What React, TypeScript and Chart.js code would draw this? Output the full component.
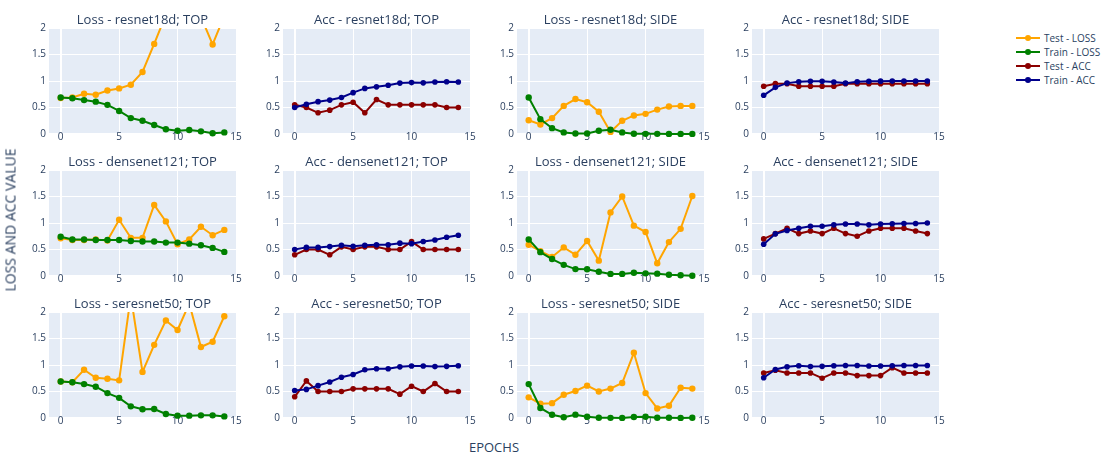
import React, { useEffect, useRef } from "react";
import { Chart, registerables } from "chart.js";

Chart.register(...registerables);

// ---------------- data ----------------
const EPOCHS = [0, 1, 2, 3, 4, 5, 6, 7, 8, 9, 10, 11, 12, 13, 14];
const X_TICKS = [0, 5, 10, 15];
const Y_TICKS = [0, 0.5, 1, 1.5, 2];

const R18_TOP_TEST_LOSS = [0.68, 0.69, 0.76, 0.74, 0.82, 0.86, 0.93, 1.17, 1.7, 2.25, 2.6, 2.8, 2.21, 1.69, 2.23];
const R18_TOP_TRAIN_LOSS = [0.69, 0.675, 0.64, 0.61, 0.55, 0.435, 0.3, 0.25, 0.17, 0.09, 0.06, 0.075, 0.05, 0.015, 0.03];
const R18_TOP_TEST_ACC = [0.55, 0.5, 0.4, 0.45, 0.55, 0.6, 0.4, 0.65, 0.55, 0.55, 0.55, 0.55, 0.55, 0.5, 0.5];
const R18_TOP_TRAIN_ACC = [0.5, 0.56, 0.61, 0.64, 0.69, 0.78, 0.86, 0.89, 0.92, 0.96, 0.97, 0.965, 0.98, 0.985, 0.98];
const R18_SIDE_TEST_LOSS = [0.26, 0.18, 0.3, 0.53, 0.66, 0.6, 0.42, 0.04, 0.25, 0.35, 0.38, 0.46, 0.52, 0.53, 0.53];
const R18_SIDE_TRAIN_LOSS = [0.69, 0.28, 0.11, 0.03, 0.01, 0.01, 0.06, 0.08, 0.03, 0.005, 0.003, 0.003, 0.002, 0.002, 0.002];
const R18_SIDE_TEST_ACC = [0.9, 0.95, 0.95, 0.9, 0.9, 0.9, 0.9, 0.95, 0.95, 0.95, 0.95, 0.95, 0.95, 0.95, 0.95];
const R18_SIDE_TRAIN_ACC = [0.73, 0.88, 0.96, 0.985, 0.995, 0.995, 0.98, 0.96, 0.985, 0.995, 0.997, 0.998, 0.998, 0.999, 0.999];

const D121_TOP_TEST_LOSS = [0.71, 0.68, 0.68, 0.69, 0.67, 1.06, 0.72, 0.72, 1.34, 1.03, 0.6, 0.69, 0.93, 0.77, 0.87];
const D121_TOP_TRAIN_LOSS = [0.74, 0.69, 0.69, 0.68, 0.68, 0.68, 0.66, 0.65, 0.65, 0.63, 0.63, 0.61, 0.58, 0.53, 0.455];
const D121_TOP_TEST_ACC = [0.4, 0.5, 0.5, 0.4, 0.55, 0.5, 0.55, 0.55, 0.5, 0.5, 0.65, 0.5, 0.5, 0.5, 0.5];
const D121_TOP_TRAIN_ACC = [0.5, 0.54, 0.54, 0.555, 0.58, 0.56, 0.58, 0.59, 0.59, 0.62, 0.61, 0.65, 0.68, 0.73, 0.77];
const D121_SIDE_TEST_LOSS = [0.59, 0.47, 0.36, 0.54, 0.4, 0.66, 0.29, 1.2, 1.5, 0.95, 0.83, 0.24, 0.64, 0.89, 1.51];
const D121_SIDE_TRAIN_LOSS = [0.69, 0.45, 0.32, 0.21, 0.13, 0.126, 0.08, 0.04, 0.04, 0.06, 0.05, 0.044, 0.025, 0.013, 0.006];
const D121_SIDE_TEST_ACC = [0.7, 0.8, 0.9, 0.8, 0.85, 0.8, 0.9, 0.8, 0.75, 0.85, 0.9, 0.9, 0.9, 0.85, 0.8];
const D121_SIDE_TRAIN_ACC = [0.6, 0.795, 0.86, 0.9, 0.94, 0.94, 0.965, 0.98, 0.98, 0.965, 0.98, 0.985, 0.99, 0.99, 1.0];

const SE50_TOP_TEST_LOSS = [0.69, 0.675, 0.91, 0.76, 0.74, 0.71, 2.3, 0.87, 1.38, 1.84, 1.66, 2.16, 1.34, 1.44, 1.92];
const SE50_TOP_TRAIN_LOSS = [0.69, 0.675, 0.64, 0.59, 0.47, 0.38, 0.22, 0.165, 0.17, 0.075, 0.044, 0.044, 0.05, 0.05, 0.03];
const SE50_TOP_TEST_ACC = [0.4, 0.7, 0.5, 0.5, 0.5, 0.55, 0.55, 0.55, 0.55, 0.45, 0.6, 0.5, 0.65, 0.5, 0.5];
const SE50_TOP_TRAIN_ACC = [0.52, 0.54, 0.61, 0.68, 0.77, 0.82, 0.91, 0.93, 0.93, 0.965, 0.98, 0.98, 0.97, 0.975, 0.985];
const SE50_SIDE_TEST_LOSS = [0.39, 0.27, 0.28, 0.44, 0.51, 0.61, 0.5, 0.555, 0.66, 1.23, 0.47, 0.18, 0.23, 0.57, 0.555];
const SE50_SIDE_TRAIN_LOSS = [0.64, 0.19, 0.06, 0.013, 0.063, 0.025, 0.006, 0.003, 0.002, 0.02, 0.025, 0.006, 0.005, 0.002, 0.005];
const SE50_SIDE_TEST_ACC = [0.85, 0.9, 0.85, 0.85, 0.85, 0.75, 0.85, 0.85, 0.8, 0.8, 0.8, 0.95, 0.85, 0.85, 0.85];
const SE50_SIDE_TRAIN_ACC = [0.76, 0.915, 0.965, 0.985, 0.97, 0.975, 0.985, 0.99, 0.99, 0.98, 0.98, 0.985, 0.99, 0.99, 0.99];

const SERIES_NAMES = ["Test - LOSS", "Train - LOSS", "Test - ACC", "Train - ACC"];

// ---------------- style / layout ----------------
const FONT = "'Open Sans', verdana, arial, sans-serif";
const TEXT = "#2a3f5f";
const PLOT_BG = "#E5ECF6";
const COLORS = ["#FFA500", "#008000", "#8B0000", "#00008B"];

const COL_LEFT = [49, 283, 517, 752];
const ROW_TOP = [28, 170, 312];
const PLOT_W = 187;
const PLOT_H = 106;
const YW = 32;
const RP = 12;
const TH = 16;
const XH = 18;

type Panel = { title: string; kind: "loss" | "acc"; test: number[]; train: number[] };

const PANELS: Panel[] = [
  { title: "Loss - resnet18d; TOP", kind: "loss", test: R18_TOP_TEST_LOSS, train: R18_TOP_TRAIN_LOSS },
  { title: "Acc - resnet18d; TOP", kind: "acc", test: R18_TOP_TEST_ACC, train: R18_TOP_TRAIN_ACC },
  { title: "Loss - resnet18d; SIDE", kind: "loss", test: R18_SIDE_TEST_LOSS, train: R18_SIDE_TRAIN_LOSS },
  { title: "Acc - resnet18d; SIDE", kind: "acc", test: R18_SIDE_TEST_ACC, train: R18_SIDE_TRAIN_ACC },
  { title: "Loss - densenet121; TOP", kind: "loss", test: D121_TOP_TEST_LOSS, train: D121_TOP_TRAIN_LOSS },
  { title: "Acc - densenet121; TOP", kind: "acc", test: D121_TOP_TEST_ACC, train: D121_TOP_TRAIN_ACC },
  { title: "Loss - densenet121; SIDE", kind: "loss", test: D121_SIDE_TEST_LOSS, train: D121_SIDE_TRAIN_LOSS },
  { title: "Acc - densenet121; SIDE", kind: "acc", test: D121_SIDE_TEST_ACC, train: D121_SIDE_TRAIN_ACC },
  { title: "Loss - seresnet50; TOP", kind: "loss", test: SE50_TOP_TEST_LOSS, train: SE50_TOP_TRAIN_LOSS },
  { title: "Acc - seresnet50; TOP", kind: "acc", test: SE50_TOP_TEST_ACC, train: SE50_TOP_TRAIN_ACC },
  { title: "Loss - seresnet50; SIDE", kind: "loss", test: SE50_SIDE_TEST_LOSS, train: SE50_SIDE_TRAIN_LOSS },
  { title: "Acc - seresnet50; SIDE", kind: "acc", test: SE50_SIDE_TEST_ACC, train: SE50_SIDE_TRAIN_ACC },
];

const bgPlugin = {
  id: "plotBg",
  beforeDraw(chart: any) {
    const { ctx, chartArea: a } = chart;
    ctx.save();
    ctx.fillStyle = PLOT_BG;
    ctx.fillRect(a.left, a.top, a.right - a.left, a.bottom - a.top);
    ctx.restore();
  },
};

// let tick labels sit close to the plot without being clipped by the scale box
const noLabelClip = {
  id: "noLabelClip",
  afterLayout(chart: any) {
    Object.values(chart.scales).forEach((s: any) => {
      s._computeLabelArea = () => undefined;
    });
  },
};

function Subplot({ p, left, top }: { p: Panel; left: number; top: number }) {
  const ref = useRef<HTMLCanvasElement>(null);
  useEffect(() => {
    const base = p.kind === "loss" ? 0 : 2;
    const mk = (vals: number[], idx: number, order: number) => ({
      label: SERIES_NAMES[base + idx],
      data: EPOCHS.map((x, i) => ({ x, y: vals[i] })),
      borderColor: COLORS[base + idx],
      backgroundColor: COLORS[base + idx],
      pointBackgroundColor: COLORS[base + idx],
      borderWidth: 2,
      pointRadius: p.kind === "loss" ? 3.2 : 2.8,
      pointBorderWidth: 0,
      pointHoverRadius: 3,
      tension: 0,
      order,
      clip: { left: 8, right: 8, top: 0, bottom: 8 },
    });
    const gridCommon = {
      color: "#ffffff",
      lineWidth: (c: any) => (c.tick && c.tick.value === 0 ? 2 : 1),
      drawTicks: false,
    };
    const tickFont = { family: FONT, size: 10 };
    const chart = new Chart(ref.current as HTMLCanvasElement, {
      type: "line",
      data: { datasets: [mk(p.test, 0, 1), mk(p.train, 1, 0)] as any },
      plugins: [bgPlugin, noLabelClip],
      options: {
        animation: false,
        responsive: true,
        maintainAspectRatio: false,
        layout: { padding: { left: 0, right: RP, top: 0, bottom: 0 } },
        plugins: {
          legend: { display: false },
          tooltip: { enabled: false },
          title: {
            display: true,
            text: p.title,
            fullSize: false,
            color: TEXT,
            font: { family: FONT, size: 13, weight: "normal", lineHeight: "16px" } as any,
            padding: { top: 0, bottom: 0 },
          },
        },
        scales: {
          x: {
            type: "linear",
            min: -1,
            max: 15,
            afterBuildTicks: (s: any) => {
              s.ticks = X_TICKS.map((v) => ({ value: v }));
            },
            afterFit: (s: any) => {
              s.height = XH;
            },
            grid: gridCommon as any,
            border: { display: false },
            ticks: {
              font: tickFont,
              color: TEXT,
              padding: -3,
              maxRotation: 0,
              autoSkip: false,
              callback: (v: any) => String(v),
            },
          },
          y: {
            type: "linear",
            min: 0,
            max: 2,
            afterBuildTicks: (s: any) => {
              s.ticks = Y_TICKS.map((v) => ({ value: v }));
            },
            afterFit: (s: any) => {
              s.width = YW;
            },
            grid: gridCommon as any,
            border: { display: false },
            ticks: {
              font: tickFont,
              color: TEXT,
              padding: 3,
              autoSkip: false,
              callback: (v: any) => String(v),
            },
          },
        },
      },
    });
    return () => chart.destroy();
  }, [p]);
  return (
    <div
      style={{
        position: "absolute",
        left: left - YW,
        top: top - TH,
        width: YW + PLOT_W + RP,
        height: TH + PLOT_H + XH,
      }}
    >
      <canvas ref={ref} />
    </div>
  );
}

function Legend() {
  return (
    <div style={{ position: "absolute", left: 1016, top: 31, fontFamily: FONT, fontSize: 10, color: TEXT }}>
      {SERIES_NAMES.map((name, i) => (
        <div key={name} style={{ display: "flex", alignItems: "center", height: 14 }}>
          <svg width={24} height={10} style={{ marginRight: 4 }}>
            <line x1={0} y1={5} x2={24} y2={5} stroke={COLORS[i]} strokeWidth={2} />
            <circle cx={12} cy={5} r={3} fill={COLORS[i]} />
          </svg>
          <span style={{ whiteSpace: "nowrap" }}>{name}</span>
        </div>
      ))}
    </div>
  );
}

export default function App() {
  return (
    <div
      style={{
        position: "fixed",
        left: 0,
        top: 0,
        width: 1105,
        height: 457,
        background: "#ffffff",
        overflow: "hidden",
        fontFamily: FONT,
      }}
    >
      {PANELS.map((p, i) => (
        <Subplot key={p.title} p={p} left={COL_LEFT[i % 4]} top={ROW_TOP[Math.floor(i / 4)]} />
      ))}
      <Legend />
      <div
        style={{
          position: "absolute",
          left: COL_LEFT[0],
          width: COL_LEFT[3] + PLOT_W - COL_LEFT[0],
          top: 438,
          textAlign: "center",
          fontSize: 13,
          color: TEXT,
          fontFamily: FONT,
        }}
      >
        EPOCHS
      </div>
      <div
        style={{
          position: "absolute",
          left: 10,
          top: 220,
          transform: "translate(-50%, -50%) rotate(-90deg)",
          whiteSpace: "nowrap",
          fontSize: 14,
          color: TEXT,
          fontFamily: FONT,
        }}
      >
        LOSS AND ACC VALUE
      </div>
    </div>
  );
}
